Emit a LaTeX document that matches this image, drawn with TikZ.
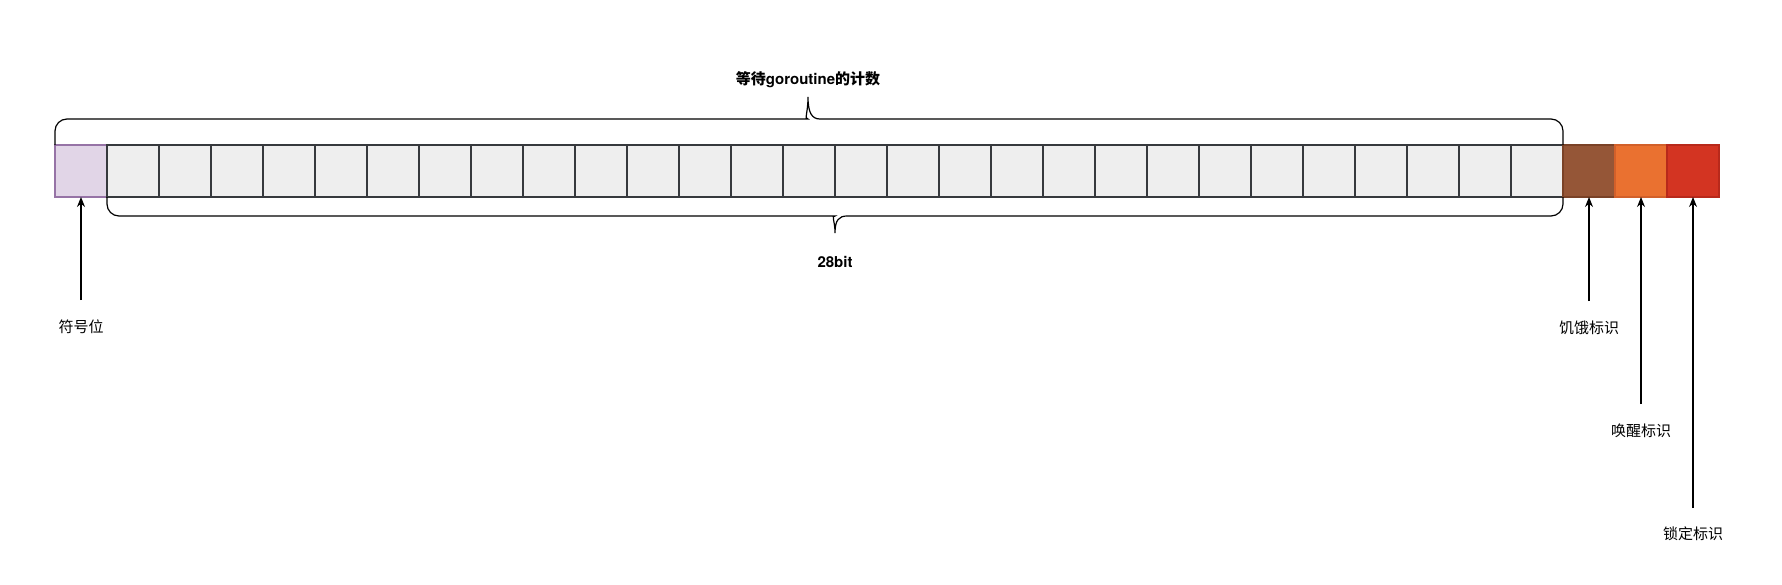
\documentclass[tikz,border=0pt]{standalone}
\usepackage{fontspec}
\setmainfont{TeX Gyre Heros}
\newfontfamily\cjk{Noto Sans CJK SC}
\usetikzlibrary{arrows.meta}
\definecolor{signfill}{HTML}{E1D5E7}
\definecolor{signline}{HTML}{9673A6}
\definecolor{bitfill}{HTML}{EEEEEE}
\definecolor{bitline}{HTML}{36393D}
\definecolor{starvefill}{HTML}{955637}
\definecolor{starveline}{HTML}{7A4227}
\definecolor{wokenfill}{HTML}{EA7130}
\definecolor{wokenline}{HTML}{D2602A}
\definecolor{lockedfill}{HTML}{D33422}
\definecolor{lockedline}{HTML}{B8291B}
\begin{document}
\begin{tikzpicture}[>={Stealth[length=10pt,width=8pt]}, x=1pt, y=-1pt,
    bit/.style={draw=bitline, fill=bitfill, line width=1.2pt, minimum size=52pt,
        inner sep=0pt, outer sep=0pt, anchor=north west},
    brc/.style={line width=1.2pt},
    lbl/.style={font=\fontsize{15}{18}\selectfont\cjk},
    ttl/.style={font=\fontsize{15}{18}\selectfont\bfseries}]
    \useasboundingbox (0,0) rectangle (1782,584);
    % the 32 bits
    \node[bit, draw=signline, fill=signfill](b0) at (55,145) {};
    \foreach \i in {1,...,28}
        \node[bit](b\i) at (55+52*\i,145) {};
    \node[bit, draw=starveline, fill=starvefill](b29) at (1563,145) {};
    \node[bit, draw=wokenline, fill=wokenfill](b30) at (1615,145) {};
    \node[bit, draw=lockedline, fill=lockedfill](b31) at (1667,145) {};
    % braces
    \draw[brc](b0.north west)[rounded corners=12pt]|-(796,119)[sharp corners]
        .. controls (804,119) and (808,113) .. (808,97)
        .. controls (808,113) and (812,119) .. (820,119)[rounded corners=12pt]-|(b28.north east);
    \node[ttl](count) at (808,80) {{\cjk 等待}goroutine{\cjk 的计数}};
    \draw[brc](b1.south west)[rounded corners=12pt]|-(823,216)[sharp corners]
        .. controls (831,216) and (835,220) .. (835,233)
        .. controls (835,220) and (839,216) .. (847,216)[rounded corners=12pt]-|(b28.south east);
    \node[ttl](width) at (835,262) {28bit};
    % labels
    \coordinate(t0) at (b0.south |- 0,300);
    \coordinate(t29) at (b29.south |- 0,301);
    \coordinate(t30) at (b30.south |- 0,404);
    \coordinate(t31) at (b31.south |- 0,508);
    \node[lbl](sign) at (81,327) {符号位};
    \node[lbl](starve) at (1589,328) {饥饿标识};
    \node[lbl](woken) at (1641,431) {唤醒标识};
    \node[lbl](locked) at (1693,534) {锁定标识};
    \foreach \i in {0,29,30,31}
        \draw[->, line width=1.2pt](t\i)--(b\i.south);
\end{tikzpicture}
\end{document}
